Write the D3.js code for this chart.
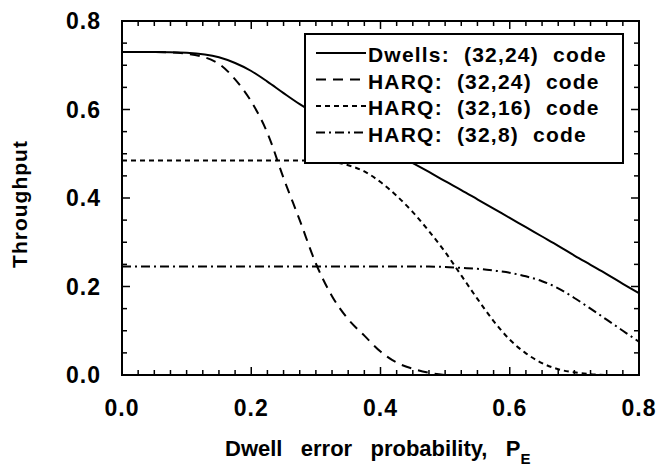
<!DOCTYPE html>
<html>
<head>
<meta charset="utf-8">
<script src="https://cdn.jsdelivr.net/npm/d3@7"></script>
<style>
  body { margin: 0; background: #fff; }
  text { font-family: "Liberation Sans", Arial, sans-serif; font-weight: bold; fill: #000; white-space: pre; }
</style>
</head>
<body>
<div id="chart"></div>
<script>
// dwell error probability, shared by all curves
var pe = [0, 0.05, 0.1, 0.15, 0.175, 0.2, 0.225, 0.25, 0.275, 0.3, 0.325, 0.35, 0.375, 0.4, 0.425,
          0.45, 0.475, 0.5, 0.525, 0.55, 0.575, 0.6, 0.625, 0.65, 0.675, 0.7, 0.725, 0.75, 0.775, 0.8];

var dwells24 = [0.73, 0.73, 0.728, 0.718, 0.705, 0.687, 0.663, 0.637, 0.612, 0.59, 0.571, 0.553, 0.535, 0.516, 0.498,
                0.479, 0.459, 0.438, 0.418, 0.397, 0.376, 0.355, 0.334, 0.313, 0.292, 0.27, 0.249, 0.228, 0.206, 0.185];
var harq24 = [0.73, 0.73, 0.726, 0.703, 0.668, 0.618, 0.547, 0.445, 0.35, 0.252, 0.178, 0.126, 0.089, 0.053, 0.028,
              0.014, 0.005, 0.0, null, null, null, null, null, null, null, null, null, null, null, null];
var harq16 = [0.485, 0.485, 0.485, 0.485, 0.485, 0.485, 0.485, 0.485, 0.485, 0.485, 0.482, 0.474, 0.46, 0.436, 0.405,
              0.368, 0.325, 0.278, 0.225, 0.172, 0.122, 0.08, 0.049, 0.027, 0.013, 0.006, 0.002, 0.0, null, null];
var harq8 = [0.245, 0.245, 0.245, 0.245, 0.245, 0.245, 0.245, 0.245, 0.245, 0.245, 0.245, 0.245, 0.245, 0.245, 0.245,
             0.245, 0.245, 0.244, 0.242, 0.24, 0.236, 0.231, 0.223, 0.212, 0.196, 0.174, 0.15, 0.125, 0.1, 0.075];

var seriesNames = ["Dwells:  (32,24)  code", "HARQ:  (32,24)  code", "HARQ:  (32,16)  code", "HARQ:  (32,8)  code"];
var xTicks = [0, 0.2, 0.4, 0.6, 0.8];
var yTicks = [0, 0.2, 0.4, 0.6, 0.8];

(function() {
  var W = 672, H = 466;
  var margin = { top: 21, left: 122, right: 33, bottom: 91 },
  width = W - margin.left - margin.right,
  height = H - margin.top - margin.bottom;

  var svg = d3.select("#chart")
      .append("svg")
      .attr("width", W)
      .attr("height", H)
      .append("g")
      .attr("transform", "translate(" + margin.left + "," + margin.top + ")");

  var x = d3.scaleLinear().domain([0, 0.8]).range([0, width]);
  var y = d3.scaleLinear().domain([0, 0.8]).range([height, 0]);

  var series = [
    { values: dwells24, dash: null },
    { values: harq24, dash: "10,7" },
    { values: harq16, dash: "5,4" },
    { values: harq8, dash: "9,4,2,4" }
  ];

  // curves
  var line = d3.line()
    .defined(function(d) { return d[1] != null; })
    .x(function(d) { return x(d[0]); })
    .y(function(d) { return y(d[1]); })
    .curve(d3.curveMonotoneX);

  series.forEach(function(s) {
    svg.append("path")
      .datum(pe.map(function(p, i) { return [p, s.values[i]]; }))
      .attr("d", line)
      .attr("fill", "none")
      .attr("stroke", "black")
      .attr("stroke-width", 2)
      .style("stroke-dasharray", s.dash);
  });

  // ticks on all four sides, pointing inward
  var xMinor = d3.range(0, 0.8001, 0.025), yMinor = d3.range(0, 0.8001, 0.05);
  function isMajor(v) { return Math.abs(v * 5 - Math.round(v * 5)) < 1e-6; }
  var ticks = svg.append("g").attr("stroke", "black").attr("stroke-width", 1.5);
  xMinor.forEach(function(v) {
    var len = isMajor(v) ? 8 : 5;
    ticks.append("line").attr("x1", x(v)).attr("x2", x(v)).attr("y1", height).attr("y2", height - len);
    ticks.append("line").attr("x1", x(v)).attr("x2", x(v)).attr("y1", 0).attr("y2", len);
  });
  yMinor.forEach(function(v) {
    var len = isMajor(v) ? 8 : 5;
    ticks.append("line").attr("y1", y(v)).attr("y2", y(v)).attr("x1", 0).attr("x2", len);
    ticks.append("line").attr("y1", y(v)).attr("y2", y(v)).attr("x1", width).attr("x2", width - len);
  });

  svg.append("rect")
    .attr("width", width).attr("height", height)
    .attr("fill", "none").attr("stroke", "black").attr("stroke-width", 2);

  // tick labels
  svg.selectAll(".xlab").data(xTicks).enter().append("text")
    .attr("x", function(d) { return x(d); })
    .attr("y", height + 41)
    .attr("text-anchor", "middle")
    .style("font-size", "23px").style("letter-spacing", "1px")
    .text(function(d) { return d.toFixed(1); });

  svg.selectAll(".ylab").data(yTicks).enter().append("text")
    .attr("x", -21)
    .attr("y", function(d) { return y(d) + 8; })
    .attr("text-anchor", "end")
    .style("font-size", "23px").style("letter-spacing", "1px")
    .text(function(d) { return d.toFixed(1); });

  // axis titles
  var xt = svg.append("text")
    .attr("x", 225 - margin.left)
    .attr("y", 456 - margin.top)
    .style("font-size", "22px");
  xt.append("tspan").text("Dwell   error   probability,   P");
  xt.append("tspan").attr("dy", 8).style("font-size", "15px").text("E");

  svg.append("text")
    .attr("transform", "translate(" + (27 - margin.left) + "," + (204 - margin.top) + ") rotate(-90)")
    .attr("text-anchor", "middle")
    .style("font-size", "21px").style("letter-spacing", "1px")
    .text("Throughput");

  // legend
  var legend = svg.append("g")
    .attr("transform", "translate(" + (305 - margin.left) + "," + (34 - margin.top) + ")");
  legend.append("rect")
    .attr("width", 318).attr("height", 129)
    .attr("fill", "white").attr("stroke", "black").attr("stroke-width", 2);
  series.forEach(function(s, i) {
    var by = 28 + i * 26.5;
    legend.append("line")
      .attr("x1", 11).attr("x2", 61)
      .attr("y1", by - 9).attr("y2", by - 9)
      .attr("stroke", "black").attr("stroke-width", 2)
      .style("stroke-dasharray", s.dash);
    legend.append("text")
      .attr("x", 63).attr("y", by)
      .style("font-size", "21px").style("letter-spacing", "1.2px")
      .text(seriesNames[i]);
  });
})();
</script>
</body>
</html>
